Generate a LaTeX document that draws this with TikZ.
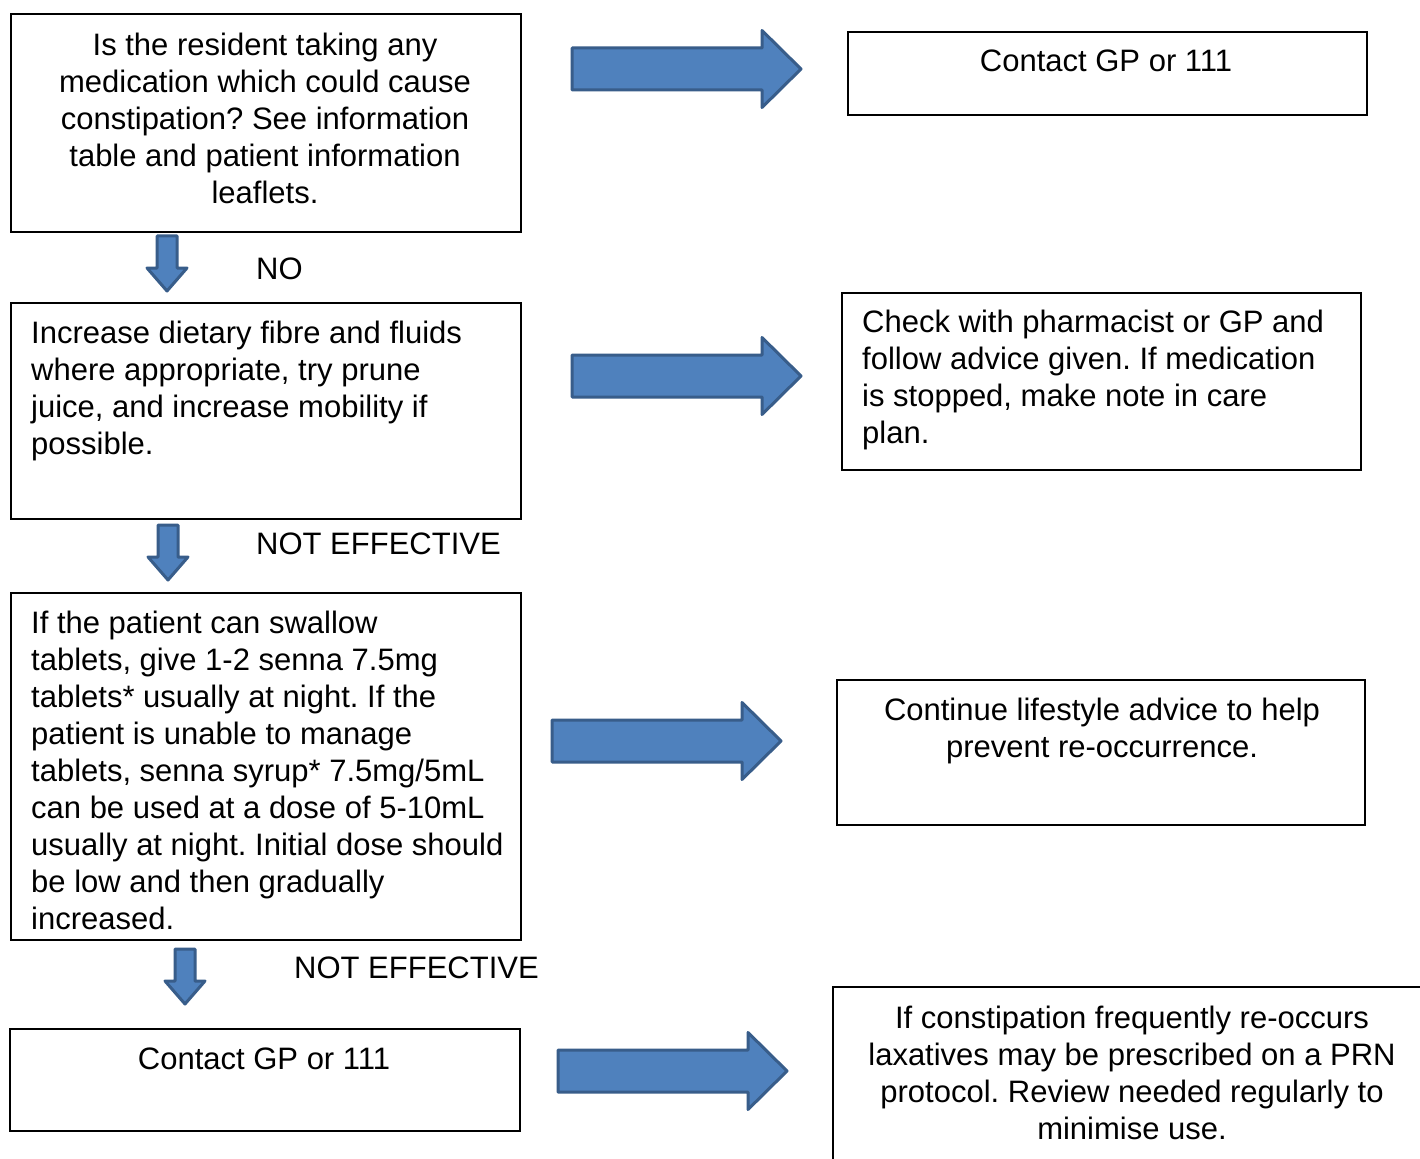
\documentclass[tikz,border=0pt]{standalone}
\usepackage{fontspec}
\setmainfont{Liberation Sans}
\definecolor{arrowfill}{HTML}{4F81BD}
\definecolor{arrowline}{HTML}{385D8A}
\tikzset{
  box/.style={draw=black, line width=2pt, inner sep=0pt, anchor=north west},
  txt/.style={inner sep=0pt, font=\fontsize{31}{37}\selectfont\frenchspacing},
  ctxt/.style={txt, align=center, anchor=north},
  ltxt/.style={txt, align=left, anchor=north west},
  flowlabel/.style={txt, anchor=base west},
  blockarrow/.style={fill=arrowfill, draw=arrowline, line width=3pt, line join=round},
  pics/rightarrow/.style={code={
    \draw[blockarrow] (0,-21) -- (190,-21) -- (190,-38.5) -- (229,0)
      -- (190,38.5) -- (190,21) -- (0,21) -- cycle;}},
  pics/downarrow/.style={code={
    \draw[blockarrow] (-10,0) -- (10,0) -- (10,32) -- (20,32) -- (0,55)
      -- (-20,32) -- (-10,32) -- cycle;}}
}
\begin{document}
\begin{tikzpicture}[x=1pt, y=-1pt]
\clip (0,0) rectangle (1420,1158);
\fill[white] (0,0) rectangle (1420,1158);

% left column
\node[box, minimum width=510pt, minimum height=218pt] (q) at (10,13) {};
\node[ctxt] (qt) at (265,33) {Is the resident taking any\\medication which could cause\\constipation? See information\\table and patient information\\leaflets.};

\node[box, minimum width=510pt, minimum height=216pt] (diet) at (10,302) {};
\node[ltxt] (dietT) at (31,321) {Increase dietary fibre and fluids\\where appropriate, try prune\\juice, and increase mobility if\\possible.};

\node[box, minimum width=510pt, minimum height=347pt] (senna) at (10,592) {};
\node[ltxt] (sennaT) at (31,611) {If the patient can swallow\\tablets, give 1-2 senna 7.5mg\\tablets* usually at night. If the\\patient is unable to manage\\tablets, senna syrup* 7.5mg/5mL\\can be used at a dose of 5-10mL\\usually at night. Initial dose should\\be low and then gradually\\increased.};

\node[box, minimum width=510pt, minimum height=102pt] (gp) at (9,1028) {};
\node[ctxt] (gpT) at (264,1048) {Contact GP or 111};

% right column
\node[box, minimum width=519pt, minimum height=83pt] (gpR) at (847,31) {};
\node[ctxt] (gpRT) at (1106,50) {Contact GP or 111};

\node[box, minimum width=519pt, minimum height=177pt] (pharm) at (841,292) {};
\node[ltxt] (pharmT) at (862,310) {Check with pharmacist or GP and\\follow advice given. If medication\\is stopped, make note in care\\plan.};

\node[box, minimum width=528pt, minimum height=145pt] (life) at (836,679) {};
\node[ctxt] (lifeT) at (1102,698) {Continue lifestyle advice to help\\prevent re-occurrence.};

\node[box, minimum width=600pt, minimum height=200pt] (prn) at (832,986) {};
\node[ctxt] (prnT) at (1132,1006) {If constipation frequently re-occurs\\laxatives may be prescribed on a PRN\\protocol. Review needed regularly to\\minimise use.};

% block arrows between the columns
\pic at (572,69) {rightarrow};
\pic at (572,376) {rightarrow};
\pic at (552,741) {rightarrow};
\pic at (558,1071) {rightarrow};

% downward arrows with their labels
\pic at (167,236) {downarrow};
\pic at (168,525) {downarrow};
\pic at (185,949) {downarrow};
\node[flowlabel] (no) at (256,279) {NO};
\node[flowlabel] (ne1) at (256,554) {NOT EFFECTIVE};
\node[flowlabel] (ne2) at (294,978) {NOT EFFECTIVE};
\end{tikzpicture}
\end{document}
